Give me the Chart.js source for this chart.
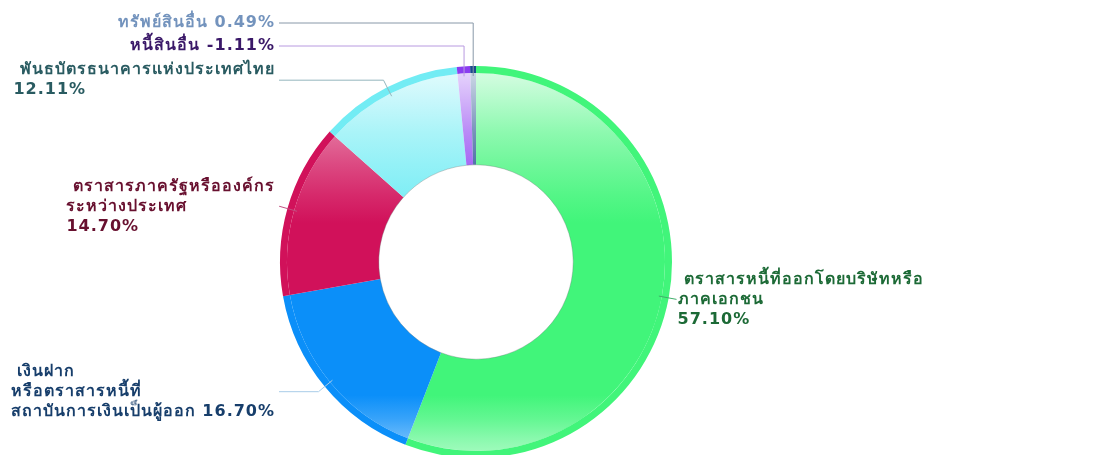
<!DOCTYPE html>
<html><head><meta charset="utf-8">
<script src="https://cdn.jsdelivr.net/npm/chart.js@4.4.1/dist/chart.umd.min.js"></script>
<style>
html,body{margin:0;padding:0;background:#fff;overflow:hidden;width:1113px;height:455px}
#wrap{position:absolute;left:0;top:0;width:1113px;height:462px}
</style></head>
<body><div id="wrap"><canvas id="c" width="1113" height="462" style="width:1113px;height:462px"></canvas></div>
<script>
// ---- data ----
const categories = [
  ' ตราสารหนี้ที่ออกโดยบริษัทหรือ\nภาคเอกชน',
  ' เงินฝาก\nหรือตราสารหนี้ที่\nสถาบันการเงินเป็นผู้ออก',
  ' ตราสารภาครัฐหรือองค์กร\nระหว่างประเทศ',
  ' พันธบัตรธนาคารแห่งประเทศไทย',
  'หนี้สินอื่น',
  'ทรัพย์สินอื่น'
];
const percents = [57.10, 16.70, 14.70, 12.11, -1.11, 0.49];
const pctOnOwnLine = [true, false, true, true, false, false];

// ---- styles ----
const sliceColors = ['#41f57a', '#0b8ff9', '#d1115a', '#72ecf4', '#8b3cf0', '#1b4a8c'];
const labelColors = ['#1c6a36', '#173e6b', '#68102f', '#295b61', '#3a1868', '#7393bd'];
const lineColors  = ['#3fae6a', '#a8cce8', '#c05080', '#93b6bd', '#b89ae0', '#8898a8'];
const labelLayout = [
  {side:'right'}, {side:'left'}, {side:'left'}, {side:'left'},
  {side:'left', lineY:-20}, {side:'left', lineY:-43}
];
const whiteStops = [[0,0.8],[0.04,0.72],[0.09,0.6],[0.17,0.4],[0.25,0.24],[0.33,0.1],[0.4,0],[0.84,0],[0.9,0.18],[0.95,0.38],[1,0.55]];

function mix(hex, t){
  const r=parseInt(hex.slice(1,3),16), g=parseInt(hex.slice(3,5),16), b=parseInt(hex.slice(5,7),16);
  return 'rgb('+Math.round(r+(255-r)*t)+','+Math.round(g+(255-g)*t)+','+Math.round(b+(255-b)*t)+')';
}
function glossy(c){
  const a = c.chart.chartArea;
  const base = sliceColors[c.dataIndex];
  if(!a) return base;
  const g = c.chart.ctx.createLinearGradient(0,a.top,0,a.bottom);
  whiteStops.forEach(([s,t]) => g.addColorStop(s, mix(base,t)));
  return g;
}

const sliceValues = percents.map(Math.abs);
const labelTexts = categories.map((c,i) => c + (pctOnOwnLine[i] ? '\n' : ' ') + percents[i].toFixed(2) + '%');

const outLabels = {
  id:'outLabels',
  afterDatasetsDraw(chart, args, opts){
    const ctx = chart.ctx;
    const area = chart.chartArea;
    const innerArc = chart.getDatasetMeta(1).data[0];
    ctx.save();
    ctx.beginPath();
    ctx.arc(innerArc.x, innerArc.y, innerArc.innerRadius, 0, Math.PI*2);
    ctx.strokeStyle = 'rgba(110,120,120,0.35)';
    ctx.lineWidth = 1;
    ctx.stroke();
    ctx.restore();

    const arcs = chart.getDatasetMeta(0).data;
    ctx.save();
    ctx.font = opts.font;
    if ('letterSpacing' in ctx) ctx.letterSpacing = opts.letterSpacing;
    ctx.textBaseline = 'middle';
    arcs.forEach((arc, i) => {
      const {x, y, startAngle, endAngle, outerRadius} = arc.getProps(['x','y','startAngle','endAngle','outerRadius'], true);
      const mid = (startAngle + endAngle) / 2;
      const cs = Math.cos(mid), sn = Math.sin(mid);
      const p0 = {x: x + cs*(outerRadius - 10), y: y + sn*(outerRadius - 10)};
      const lay = labelLayout[i];
      let elbow;
      if (lay.lineY !== undefined) elbow = {x: p0.x, y: area.top + lay.lineY};
      else elbow = {x: x + cs*(outerRadius + 8), y: y + sn*(outerRadius + 8)};
      let endX;
      if (lay.side === 'left') endX = Math.min(elbow.x, x - outerRadius - 1);
      else endX = Math.max(elbow.x, x + outerRadius + 1);

      ctx.beginPath();
      ctx.moveTo(p0.x, p0.y);
      ctx.lineTo(elbow.x, elbow.y);
      ctx.lineTo(endX, elbow.y);
      ctx.strokeStyle = lineColors[i];
      ctx.lineWidth = 1;
      ctx.stroke();

      const lines = labelTexts[i].split('\n');
      const widths = lines.map(l => ctx.measureText(l).width);
      const bw = Math.max(...widths);
      const left = lay.side === 'left' ? endX - 4 - bw : endX + 1;
      ctx.fillStyle = labelColors[i];
      ctx.textAlign = 'left';
      lines.forEach((l, k) => {
        ctx.fillText(l, left, elbow.y + (k - (lines.length-1)/2) * opts.lineHeight);
      });
    });
    ctx.restore();
  }
};

new Chart(document.getElementById('c'), {
  type:'doughnut',
  data:{
    labels: categories,
    datasets:[
      {data: sliceValues, backgroundColor: sliceColors, borderWidth:0, weight:7, hoverOffset:0},
      {data: sliceValues, backgroundColor: glossy, borderWidth:0, weight:92, hoverOffset:0}
    ]
  },
  options:{
    responsive:false,
    animation:false,
    events:[],
    cutout:'49.6%',
    layout:{padding:{left:280, right:441, top:66, bottom:4}},
    plugins:{
      legend:{display:false},
      tooltip:{enabled:false},
      outLabels:{font:'bold 16px "DejaVu Sans"', letterSpacing:'1px', lineHeight:20}
    }
  },
  plugins:[outLabels]
});
</script>
</body></html>
